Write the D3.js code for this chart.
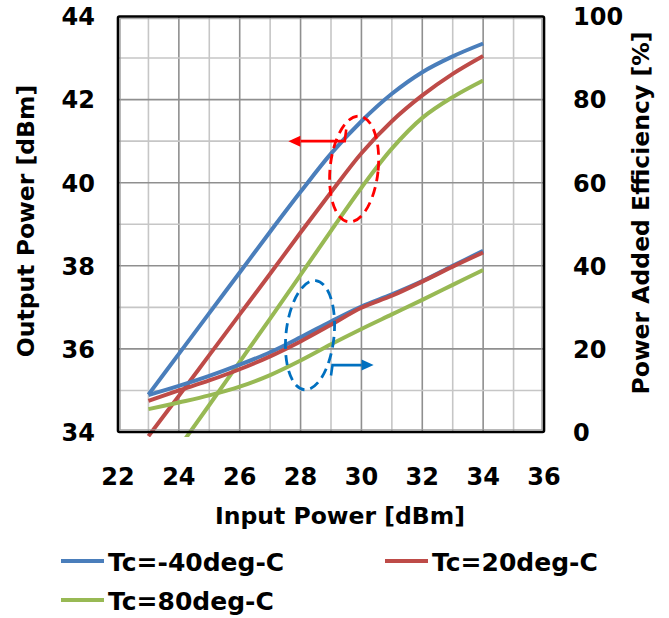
<!DOCTYPE html>
<html>
<head>
<meta charset="utf-8">
<script src="https://cdn.jsdelivr.net/npm/d3@7"></script>
<style>
  html, body { margin: 0; padding: 0; background: #fff; }
  svg { display: block; }
  text { font-family: "DejaVu Sans", Verdana, sans-serif; font-weight: bold; fill: #000; }
</style>
</head>
<body>
<svg id="chart" width="669" height="618"></svg>
<script>
// Input power sweep [dBm]
const inputPower = [23, 24, 25, 26, 27, 28, 29, 30, 31, 32, 33, 34];

// Output power [dBm] per case temperature
const poutM40 = [34.9, 35.88, 36.86, 37.84, 38.82, 39.78, 40.7, 41.48, 42.14, 42.66, 43.04, 43.35];
const poutP20 = [33.9, 34.87, 35.85, 36.83, 37.81, 38.8, 39.77, 40.71, 41.48, 42.1, 42.62, 43.05];
const poutP80 = [32.6, 33.62, 34.65, 35.69, 36.73, 37.78, 38.84, 39.88, 40.82, 41.56, 42.06, 42.46];

// Power added efficiency [%] per case temperature
const paeM40 = [8.9, 11.1, 13.5, 16.2, 19.2, 22.8, 26.6, 30.2, 33.1, 36.3, 40.0, 43.6];
const paeP20 = [7.5, 10.0, 12.4, 15.1, 18.2, 21.8, 25.8, 29.9, 32.8, 36.2, 39.8, 43.2];
const paeP80 = [5.5, 7.1, 8.8, 10.9, 13.7, 17.2, 21.1, 24.8, 28.3, 31.8, 35.4, 39.0];

const seriesNames = ["Tc=-40deg-C", "Tc=20deg-C", "Tc=80deg-C"];
const seriesColors = ["#4A7EBB", "#BE4B48", "#98B954"];

// Axis ticks
const xTicks = [22, 24, 26, 28, 30, 32, 34, 36];
const yLeftTicks = [34, 36, 38, 40, 42, 44];
const yRightTicks = [0, 20, 40, 60, 80, 100];

// Group annotations (data units): red = output power (left axis), blue = PAE (right axis)
const poutMarker = { cx: 29.76, cy: 40.33, rx: 0.79, ry: 1.28, elbow: [[29.5, 41.28], [29.45, 41.0]], tip: [27.6, 41.0] };
const paeMarker = { cx: 28.31, cy: 23.3, rx: 0.79, ry: 13.2, elbow: [[29.0, 13.6], [29.05, 16.1]], tip: [30.4, 16.1] };

const svg = d3.select("#chart");
const L = 118, R = 544, T = 16.5, B = 432;

const x = d3.scaleLinear().domain([22, 36]).range([L, R]);
const yL = d3.scaleLinear().domain([34, 44]).range([B, T]);
const yR = d3.scaleLinear().domain([0, 100]).range([B, T]);

// Gridlines: every 1 dBm / 1 dB, darker on the labelled values
const grid = svg.append("g");
d3.range(23, 36).forEach(v => {
  grid.append("line")
    .attr("x1", x(v)).attr("x2", x(v)).attr("y1", T).attr("y2", B)
    .attr("stroke", v % 2 === 0 ? "#8f8f8f" : "#c6c6c6").attr("stroke-width", 1.6);
});
d3.range(35, 44).forEach(v => {
  grid.append("line")
    .attr("x1", L).attr("x2", R).attr("y1", yL(v)).attr("y2", yL(v))
    .attr("stroke", v % 2 === 0 ? "#8f8f8f" : "#c6c6c6").attr("stroke-width", 1.6);
});

// Clip for the data lines
svg.append("defs").append("clipPath").attr("id", "plotClip")
  .append("rect").attr("x", L - 3).attr("y", T - 3).attr("width", R - L + 6).attr("height", B - T + 8);

const lineL = d3.line().x((d, i) => x(inputPower[i])).y(d => yL(d)).curve(d3.curveCatmullRom.alpha(0.5));
const lineR = d3.line().x((d, i) => x(inputPower[i])).y(d => yR(d)).curve(d3.curveCatmullRom.alpha(0.5));

const plot = svg.append("g").attr("clip-path", "url(#plotClip)");
[poutM40, poutP20, poutP80].forEach((s, i) => {
  plot.append("path").attr("d", lineL(s)).attr("fill", "none")
    .attr("stroke", seriesColors[i]).attr("stroke-width", 4).attr("stroke-linejoin", "round");
});
[paeM40, paeP20, paeP80].forEach((s, i) => {
  plot.append("path").attr("d", lineR(s)).attr("fill", "none")
    .attr("stroke", seriesColors[i]).attr("stroke-width", 4).attr("stroke-linejoin", "round");
});

// Plot area frame
svg.append("rect").attr("x", L + 2.2).attr("y", T + 2.2).attr("width", R - L - 4.4).attr("height", B - T - 4.4)
  .attr("fill", "none").attr("stroke", "#9a9a9a").attr("stroke-width", 1);
svg.append("rect").attr("x", L).attr("y", T).attr("width", R - L).attr("height", B - T).attr("rx", 1.5)
  .attr("fill", "none").attr("stroke", "#000").attr("stroke-width", 2.6);

// Annotations
function drawMarker(m, yScale, color) {
  const g = svg.append("g");
  const cx = x(m.cx), cy = yScale(m.cy);
  const rx = x(m.cx + m.rx) - cx, ry = yScale(m.cy) - yScale(m.cy + m.ry);
  g.append("ellipse").attr("cx", cx).attr("cy", cy).attr("rx", rx).attr("ry", ry)
    .attr("transform", `rotate(6, ${cx}, ${cy})`)
    .attr("fill", "none").attr("stroke", color).attr("stroke-width", 2.8).attr("stroke-dasharray", "10,6");
  const pts = m.elbow.map(p => [x(p[0]), yScale(p[1])]);
  const tip = [x(m.tip[0]), yScale(m.tip[1])];
  const dir = Math.sign(tip[0] - pts[1][0]);
  const head = 12;
  g.append("path").attr("d", d3.line()([pts[0], pts[1], [tip[0] - dir * head, tip[1]]]))
    .attr("fill", "none").attr("stroke", color).attr("stroke-width", 2.6);
  g.append("path").attr("d", d3.line()([[tip[0], tip[1]], [tip[0] - dir * head, tip[1] - 5.5], [tip[0] - dir * head, tip[1] + 5.5]]) + "Z")
    .attr("fill", color);
}
drawMarker(poutMarker, yL, "#FF0000");
drawMarker(paeMarker, yR, "#0070C0");

// Tick labels
const fs = 24;
svg.append("g").selectAll("text").data(xTicks).join("text")
  .attr("x", d => x(d)).attr("y", 485).attr("text-anchor", "middle")
  .style("font-size", fs + "px").text(d => d);
svg.append("g").selectAll("text").data(yLeftTicks).join("text")
  .attr("x", 95).attr("y", d => yL(d) + 8.8).attr("text-anchor", "end")
  .style("font-size", fs + "px").text(d => d);
svg.append("g").selectAll("text").data(yRightTicks).join("text")
  .attr("x", 573).attr("y", d => yR(d) + 8.8).attr("text-anchor", "start")
  .style("font-size", fs + "px").text(d => d);

// Axis titles
svg.append("text").attr("x", 340).attr("y", 524).attr("text-anchor", "middle")
  .style("font-size", "23.5px").text("Input Power [dBm]");
svg.append("text").attr("transform", "translate(34,221) rotate(-90)").attr("text-anchor", "middle")
  .style("font-size", "23.5px").text("Output Power [dBm]");
svg.append("text").attr("transform", "translate(649,213) rotate(-90)").attr("text-anchor", "middle")
  .style("font-size", "23.5px").text("Power Added Efficiency [%]");

// Legend
const legendPos = [[61, 561], [385, 561], [61, 600]];
const legend = svg.append("g");
seriesNames.forEach((name, i) => {
  const [lx, ly] = legendPos[i];
  legend.append("line").attr("x1", lx).attr("x2", lx + 43).attr("y1", ly).attr("y2", ly)
    .attr("stroke", seriesColors[i]).attr("stroke-width", 4);
  legend.append("text").attr("x", lx + 47).attr("y", ly + 9.8)
    .style("font-size", "25px").text(name);
});
</script>
</body>
</html>
